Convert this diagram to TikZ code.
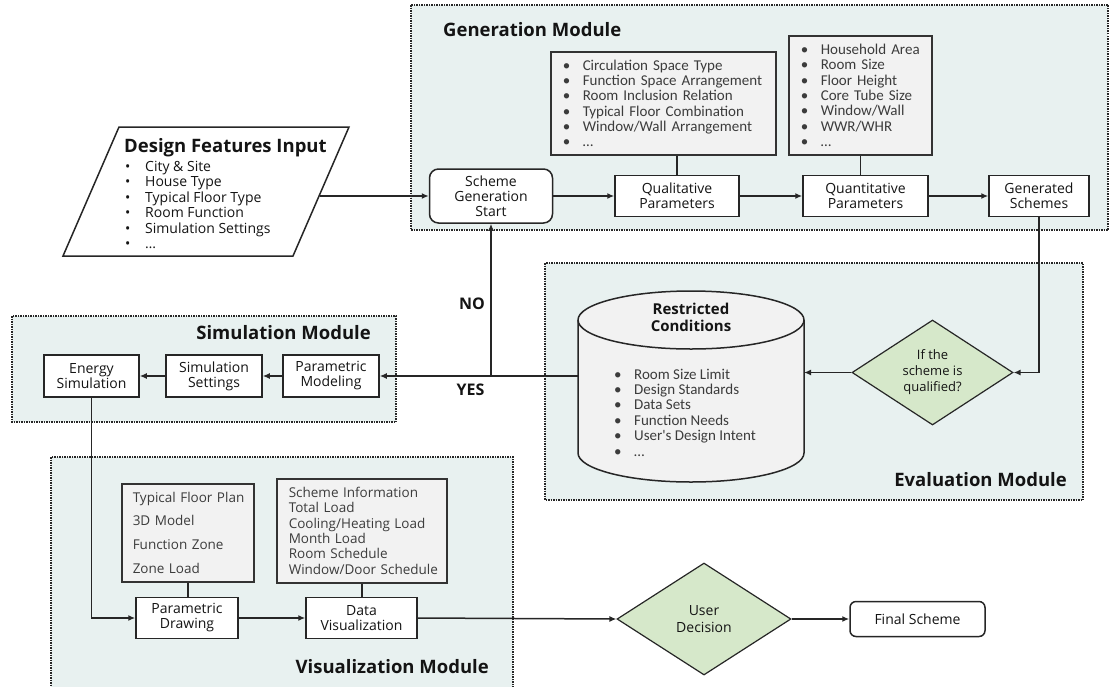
\documentclass[tikz,border=0pt]{standalone}
\usepackage{fontspec}
\setmainfont{Open Sans}
\newfontfamily\lstfont{Carlito}
\usetikzlibrary{shapes.geometric,arrows.meta}
\definecolor{modfill}{RGB}{232,241,240}
\definecolor{lstfill}{RGB}{242,242,242}
\definecolor{dfill}{RGB}{214,232,202}
\definecolor{txt}{RGB}{20,20,20}
\definecolor{ltxt}{RGB}{60,60,60}
\newcommand\li[1]{\mbox{\makebox[20pt][l]{\textbullet}#1}}
\begin{document}
\begin{tikzpicture}[x=1pt,y=-1pt,
 module/.style={fill=modfill, draw=black!85, line width=1.5pt, dash pattern=on 1.5pt off 1pt},
 box/.style={draw=black!85, line width=1.5pt, fill=white, align=center, text=txt, font=\fontsize{14}{15}\selectfont, inner sep=1pt},
 lbox/.style={draw=black!80, line width=1.5pt, fill=lstfill, align=left, text=ltxt, inner ysep=0pt, anchor=north west},
 title/.style={font=\fontsize{18.5}{20}\selectfont\bfseries, text=txt, inner sep=0pt},
 dia/.style={diamond, draw=black!85, line width=1.2pt, fill=dfill, align=center, inner sep=0pt, text=txt, font=\fontsize{13}{16}\selectfont},
 arr/.style={line width=1.5pt, draw=black!85, -{Latex[length=7pt,width=6pt]}},
 ln/.style={line width=1.5pt, draw=black!85},
 yn/.style={font=\fontsize{16}{18}\selectfont\bfseries, text=txt, inner sep=0pt}
]
\useasboundingbox (0,0) rectangle (1113,686);

% modules
\draw[module] (411,5) rectangle (1108,230);
\draw[module] (12,316) rectangle (396,422);
\draw[module] (545,263) rectangle (1083,500);
\draw[module] (51,457) rectangle (513,700);

\node[title, anchor=west] (tgen) at (443,30) {Generation Module};
\node[title, anchor=east] (tsim) at (371,333) {Simulation Module};
\node[title, anchor=east] (teva) at (1067,480) {Evaluation Module};
\node[title, anchor=east] (tvis) at (489,667) {Visualization Module};

% design features input
\draw[line width=1.5pt, draw=black!85, fill=white] (119,127) -- (349,127) -- (293,256) -- (63,256) -- cycle;
\coordinate (dfo) at (320,196);
\node[title, anchor=west] (dft) at (124,148) {Design Features Input};
\node[anchor=west, align=left, inner sep=0pt, font=\fontsize{14}{15.4}\selectfont, text=txt] (dfl) at (125,205)
 {\li{City \& Site}\\ \li{House Type}\\ \li{Typical Floor Type}\\ \li{Room Function}\\ \li{Simulation Settings}\\ \li{…}};

% generation module
\node[box, rounded corners=9pt, minimum width=123, minimum height=54] (sgs) at (491,196) {Scheme\\Generation\\Start};
\node[box, minimum width=124, minimum height=41] (qual) at (677,196) {Qualitative\\Parameters};
\node[box, minimum width=125, minimum height=41] (quan) at (865.5,196) {Quantitative\\Parameters};
\node[box, minimum width=100, minimum height=41] (gens) at (1039,196) {Generated\\Schemes};

\node[lbox, minimum height=103, inner xsep=12pt, text width=201pt, font=\lstfont\fontsize{15}{15.3}\selectfont] (qlst) at (550,51)
 {\li{Circulation Space Type}\\ \li{Function Space Arrangement}\\ \li{Room Inclusion Relation}\\ \li{Typical Floor Combination}\\ \li{Window/Wall Arrangement}\\ \li{…}};
\node[lbox, minimum height=119, inner xsep=12pt, text width=119pt, font=\lstfont\fontsize{15}{15.3}\selectfont] (nlst) at (788,35)
 {\li{Household Area}\\ \li{Room Size}\\ \li{Floor Height}\\ \li{Core Tube Size}\\ \li{Window/Wall}\\ \li{WWR/WHR}\\ \li{…}};

% evaluation module
\draw[line width=1.5pt, draw=black!85, fill=lstfill] (578,320) -- (578,453)
  arc[start angle=180, end angle=0, x radius=113, y radius=29] -- (804,320)
  arc[start angle=0, end angle=-180, x radius=113, y radius=29] -- cycle;
\draw[line width=1.5pt, draw=black!85] (578,320) arc[start angle=180, end angle=0, x radius=113, y radius=29];
\coordinate (cylw) at (578,376);
\coordinate (cyle) at (804,372.5);
\node[font=\fontsize{15}{17}\selectfont\bfseries, align=center, text=txt] (rct) at (691,317) {Restricted\\Conditions};
\node[anchor=west, align=left, inner sep=0pt, font=\lstfont\fontsize{15}{15.4}\selectfont, text=ltxt] (rcl) at (614,412.5)
 {\li{Room Size Limit}\\ \li{Design Standards}\\ \li{Data Sets}\\ \li{Function Needs}\\ \li{User's Design Intent}\\ \li{…}};
\node[dia, minimum width=161, minimum height=100] (qd) at (932.5,372.5) {If the\\scheme is\\qualified?};

% simulation module
\node[box, minimum width=95, minimum height=42] (es) at (91.5,376) {Energy\\Simulation};
\node[box, minimum width=96, minimum height=42] (ss) at (214,376) {Simulation\\Settings};
\node[box, minimum width=96, minimum height=42] (pm) at (331,376) {Parametric\\Modeling};

% visualization module
\node[lbox, minimum height=98, inner xsep=11pt, text width=110pt, font=\fontsize{13.5}{23.7}\selectfont] (vl1) at (121,483)
 {\mbox{Typical Floor Plan}\\ \mbox{3D Model}\\ \mbox{Function Zone}\\ \mbox{Zone Load}};
\node[lbox, minimum height=104, inner xsep=12pt, text width=146pt, font=\fontsize{13.5}{15.3}\selectfont] (vl2) at (276,478)
 {\mbox{Scheme Information}\\ \mbox{Total Load}\\ \mbox{Cooling/Heating Load}\\ \mbox{Month Load}\\ \mbox{Room Schedule}\\ \mbox{Window/Door Schedule}};
\node[box, minimum width=102, minimum height=41] (pd) at (187,618) {Parametric\\Drawing};
\node[box, minimum width=111, minimum height=41] (dv) at (361.5,618) {Data\\Visualization};

\node[dia, minimum width=174, minimum height=112, font=\fontsize{14}{17}\selectfont] (ud) at (704,619) {User\\Decision};
\node[box, rounded corners=6pt, minimum width=135, minimum height=35] (fs) at (917.5,619) {Final Scheme};

% connectors
\draw[arr] (dfo) -- (sgs.west);
\draw[arr] (sgs.east) -- (qual.west);
\draw[arr] (qual.east) -- (quan.west);
\draw[arr] (quan.east) -- (gens.west);
\draw[ln] (qual.north) -- (qual.north |- qlst.south);
\draw[ln] (nlst.south) -- (nlst.south |- quan.north);
\draw[arr] (gens.south) |- (qd.east);
\draw[arr] (qd.west) -- (cyle);
\draw[arr] (cylw) -- (pm.east);
\coordinate (ynj) at (491,376);
\draw[arr] (ynj) -- (sgs.south);
\node[yn] (no) at (472,304) {NO};
\node[yn] (yes) at (470.5,390) {YES};
\draw[arr] (pm.west) -- (ss.east);
\draw[arr] (ss.west) -- (es.east);
\draw[arr] (es.south) |- (pd.west);
\draw[ln] (vl1.south) -- (vl1.south |- pd.north);
\draw[ln] (vl2.south) -- (vl2.south |- dv.north);
\draw[arr] (pd.east) -- (dv.west);
\draw[arr] (dv.east) -- (ud.west);
\draw[arr] (ud.east) -- (fs.west);
\end{tikzpicture}
\end{document}
